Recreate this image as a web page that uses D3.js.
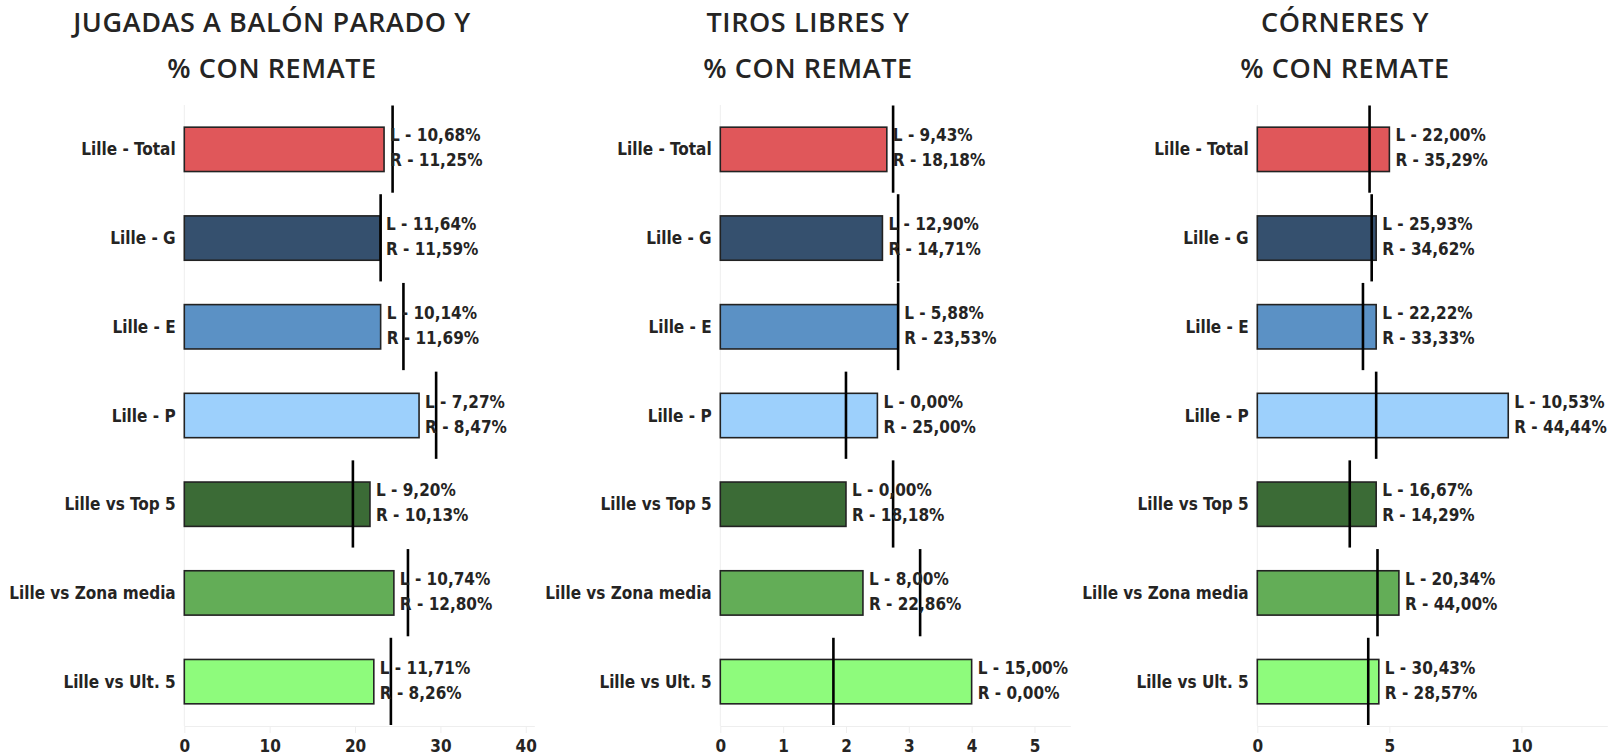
<!DOCTYPE html>
<html>
<head>
<meta charset="utf-8">
<script src="https://cdn.jsdelivr.net/npm/d3@7"></script>
<style>
    body { margin: 0; background: #fff; }
    text { fill: #252423; }
</style>
</head>
<body>
<svg id="chart" width="1613" height="755"></svg>
<script>
const categories = ["Lille - Total", "Lille - G", "Lille - E", "Lille - P", "Lille vs Top 5", "Lille vs Zona media", "Lille vs Ult. 5"]
const palette = ["#e0575a", "#35506e", "#5b91c5", "#9dd0fc", "#3b6b36", "#63ad57", "#8efb7c"]

// jugadas a balón parado
const balonBars = [23.4, 22.92, 23.0, 27.5, 21.75, 24.55, 22.2]
const balonLines = [24.4, 23.0, 25.67, 29.5, 19.75, 26.2, 24.2]
const balonL = ["10,68", "11,64", "10,14", "7,27", "9,20", "10,74", "11,71"]
const balonR = ["11,25", "11,59", "11,69", "8,47", "10,13", "12,80", "8,26"]
const balonTicks = [0, 10, 20, 30, 40]

// tiros libres
const tirosBars = [2.65, 2.58, 2.83, 2.5, 2.0, 2.27, 4.0]
const tirosLines = [2.75, 2.83, 2.83, 2.0, 2.75, 3.18, 1.8]
const tirosL = ["9,43", "12,90", "5,88", "0,00", "0,00", "8,00", "15,00"]
const tirosR = ["18,18", "14,71", "23,53", "25,00", "18,18", "22,86", "0,00"]
const tirosTicks = [0, 1, 2, 3, 4, 5]

// córneres
const cornerBars = [5.0, 4.5, 4.5, 9.5, 4.5, 5.36, 4.6]
const cornerLines = [4.25, 4.33, 4.0, 4.5, 3.5, 4.55, 4.2]
const cornerL = ["22,00", "25,93", "22,22", "10,53", "16,67", "20,34", "30,43"]
const cornerR = ["35,29", "34,62", "33,33", "44,44", "14,29", "44,00", "28,57"]
const cornerTicks = [0, 5, 10]

const panels = [
    {title: ["JUGADAS A BALÓN PARADO Y", "% CON REMATE"], bars: balonBars, lines: balonLines, L: balonL, R: balonR, ticks: balonTicks, max: 41},
    {title: ["TIROS LIBRES Y", "% CON REMATE"], bars: tirosBars, lines: tirosLines, L: tirosL, R: tirosR, ticks: tirosTicks, max: 5.57},
    {title: ["CÓRNERES Y", "% CON REMATE"], bars: cornerBars, lines: cornerLines, L: cornerL, R: cornerR, ticks: cornerTicks, max: 13.25}
]

const svg = d3.select("#chart")
const offsets = [0, 536, 1073]
const plotLeft = 184.3
const plotWidth = 350
const plotTop = 105
const plotBottom = 726
const labelFont = "'Liberation Sans Narrow', 'DejaVu Sans Condensed', sans-serif"

const y = d3.scaleBand()
    .domain(categories)
    .range([plotTop, plotBottom])
    .paddingInner(0.5)
    .paddingOuter(0.25)

const color = d3.scaleOrdinal(categories, palette)

panels.forEach((p, i) => {
    const g = svg.append("g").attr("transform", `translate(${offsets[i]},0)`)

    const x = d3.scaleLinear()
        .domain([0, p.max])
        .range([plotLeft, plotLeft + plotWidth])

    g.selectAll(".title")
        .data(p.title)
        .enter().append("text")
        .attr("x", 272)
        .attr("y", (d, j) => j === 0 ? 31.7 : 78.3)
        .attr("text-anchor", "middle")
        .style("font-family", "'Open Sans', sans-serif")
        .style("font-weight", 600)
        .style("font-size", "27px")
        .style("letter-spacing", "0.6px")
        .text(d => d)

    // faint axis frame
    g.append("line")
        .attr("x1", plotLeft).attr("x2", plotLeft)
        .attr("y1", plotTop).attr("y2", plotBottom)
        .attr("stroke", "#eeeeee")
        .attr("stroke-width", 1)

    const axis = g.append("g")
        .attr("transform", `translate(0,${plotBottom})`)
        .call(d3.axisBottom(x).tickValues(p.ticks).tickSize(7).tickSizeOuter(0).tickFormat(d3.format("d")))
    axis.select(".domain").attr("stroke", "#eeeeee")
    axis.selectAll(".tick line").attr("stroke", "#eeeeee")
    axis.selectAll(".tick text")
        .attr("y", 0)
        .attr("dy", "25.7px")
        .style("font-family", labelFont)
        .style("font-weight", "bold")
        .style("font-size", "17px")
        .style("fill", "#252423")

    g.selectAll(".cat")
        .data(categories)
        .enter().append("text")
        .attr("x", plotLeft - 8.6)
        .attr("y", d => y(d) + y.bandwidth() / 2 + 6)
        .attr("text-anchor", "end")
        .style("font-family", labelFont)
        .style("font-weight", "bold")
        .style("font-size", "17px")
        .text(d => d)

    g.selectAll(".bar")
        .data(categories)
        .enter().append("rect")
        .attr("x", x(0))
        .attr("y", d => y(d))
        .attr("width", (d, j) => x(p.bars[j]) - x(0))
        .attr("height", y.bandwidth())
        .attr("fill", d => color(d))
        .attr("stroke", "#222222")
        .attr("stroke-width", 1.6)

    const step = y.step()
    g.selectAll(".ref")
        .data(categories)
        .enter().append("line")
        .attr("x1", (d, j) => x(p.lines[j]))
        .attr("x2", (d, j) => x(p.lines[j]))
        .attr("y1", d => y(d) + y.bandwidth() / 2 - step / 2 + 0.5)
        .attr("y2", d => y(d) + y.bandwidth() / 2 + step / 2 - 1)
        .attr("stroke", "#000")
        .attr("stroke-width", 2.6)

    const lbl = g.selectAll(".lbl")
        .data(categories)
        .enter().append("text")
        .style("font-family", labelFont)
        .style("font-weight", "bold")
        .style("font-size", "17px")
        .style("fill", "#252423")

    lbl.append("tspan")
        .attr("x", (d, j) => x(p.bars[j]) + 6)
        .attr("y", d => y(d) + y.bandwidth() / 2 - 8)
        .text((d, j) => `L - ${p.L[j]}%`)
    lbl.append("tspan")
        .attr("x", (d, j) => x(p.bars[j]) + 6)
        .attr("y", d => y(d) + y.bandwidth() / 2 + 17)
        .text((d, j) => `R - ${p.R[j]}%`)
})
</script>
</body>
</html>
